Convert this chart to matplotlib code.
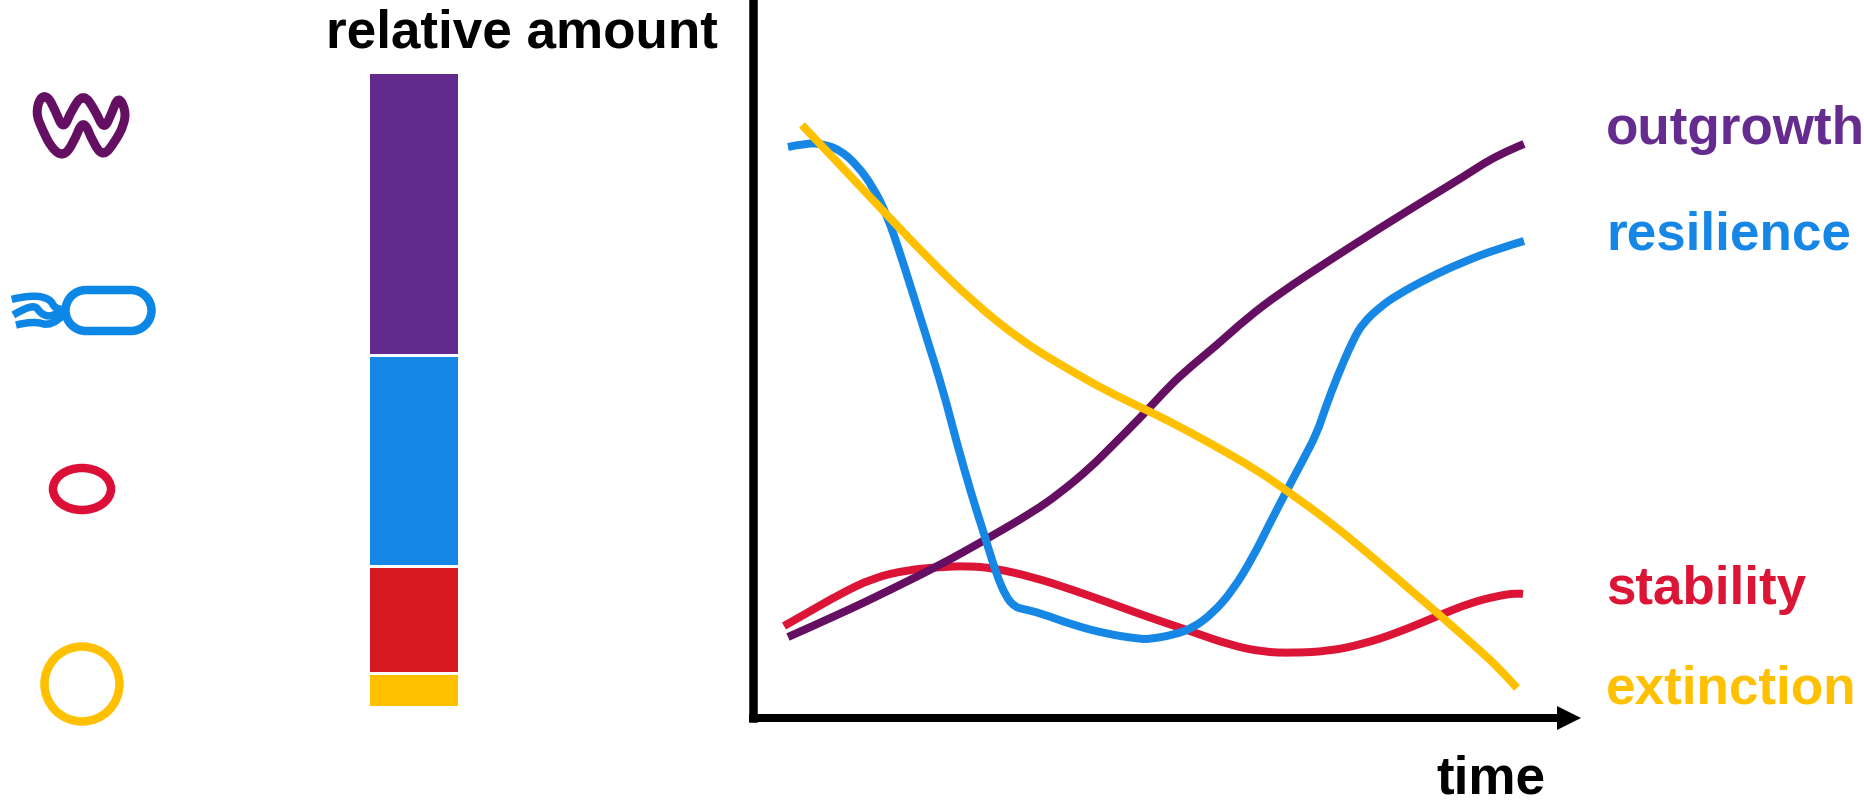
import matplotlib
matplotlib.use("Agg")
import matplotlib.pyplot as plt
from matplotlib.path import Path
from matplotlib.patches import PathPatch, Ellipse, Polygon

plt.rcParams['font.family'] = ['Liberation Sans', 'DejaVu Sans']

# ---------- data ----------
states = ["outgrowth", "resilience", "stability", "extinction"]
relative_amount = [44.5, 33.4, 16.9, 5.2]

outgrowth_t = [35, 87, 137, 187, 232, 280, 307, 337, 360, 387, 410, 430, 464, 494, 527, 577, 627, 677, 710, 744, 771]
outgrowth_y = [81, 104, 128, 153, 178, 206, 225, 250, 273, 300, 325, 345, 373, 400, 425, 458, 490, 521, 541, 563, 574]

resilience_t = [35, 54, 70, 87, 104, 120, 134, 147, 160, 174, 190, 203, 218, 232, 243, 253, 262, 270, 287, 320, 354,
                387, 397, 420, 440, 460, 480, 500, 517, 534, 550, 564, 572, 584, 600, 610, 627, 644, 677, 710, 744, 771]
resilience_y = [571, 575, 574, 568, 553, 531, 503, 465, 424, 379, 328, 278, 225, 181, 145, 121, 111, 109, 105, 93, 84,
                79, 79, 83, 90, 105, 128, 161, 195, 228, 258, 285, 309, 341, 378, 395, 411, 423, 441, 456, 469, 477]

stability_t = [31, 54, 87, 120, 154, 187, 214, 240, 280, 320, 354, 387, 410, 437, 477, 510, 540, 577, 610, 644, 687, 717, 744, 764, 770]
stability_y = [92, 105, 124, 140, 148, 151, 152, 150, 141, 128, 116, 104, 96, 87, 73, 66, 65, 67, 74, 85, 103, 115, 122, 125, 124]

extinction_t = [49, 87, 134, 174, 220, 270, 320, 352, 387, 414, 457, 504, 537, 577, 617, 654, 689, 724, 747, 764]
extinction_y = [593, 553, 503, 461, 416, 376, 346, 328, 311, 298, 275, 248, 225, 196, 163, 131, 101, 70, 49, 30]

# ---------- styles ----------
W, H = 1864, 801
BAR_COLORS = ["#632A8E", "#1787E5", "#D61820", "#FFC000"]
LINE_COLORS = {"outgrowth": "#650F62", "resilience": "#1787E5", "stability": "#DC1436", "extinction": "#FFC000"}
TEXT_COLORS = {"outgrowth": "#652B8F", "resilience": "#1787E5", "stability": "#DC1436", "extinction": "#FFC000"}
ICON_COLORS = {"outgrowth": "#650F62", "resilience": "#0D87E6", "stability": "#DC1036", "extinction": "#FFC000"}

def px(n):
    return n * 72 / 100

def rect(x0, y_top, x1, y_bottom):
    return [x0 / W, 1 - y_bottom / H, (x1 - x0) / W, (y_bottom - y_top) / H]

def smooth_closed(points):
    n = len(points)
    mids = [((points[i][0] + points[(i + 1) % n][0]) / 2,
             (points[i][1] + points[(i + 1) % n][1]) / 2) for i in range(n)]
    verts = [mids[-1]]
    codes = [Path.MOVETO]
    for p, m in zip(points, mids):
        verts += [p, m]
        codes += [Path.CURVE3, Path.CURVE3]
    verts.append(mids[-1])
    codes.append(Path.CLOSEPOLY)
    return Path(verts, codes)

def smooth_open(points):
    verts = [points[0]]
    codes = [Path.MOVETO]
    for i in range(1, len(points) - 1):
        m = ((points[i][0] + points[i + 1][0]) / 2, (points[i][1] + points[i + 1][1]) / 2)
        verts += [points[i], m if i < len(points) - 2 else points[-1]]
        codes += [Path.CURVE3, Path.CURVE3]
    return Path(verts, codes)

fig = plt.figure(figsize=(W / 100, H / 100), dpi=100, facecolor="white")

# ---------- stacked bar ----------
axb = fig.add_axes(rect(370, 74, 458, 705.5))
axb.set_xlim(0, 1)
axb.set_ylim(0, sum(relative_amount))
axb.axis("off")
bottom = 0
for v, c in zip(reversed(relative_amount), reversed(BAR_COLORS)):
    axb.bar(0.5, v, width=1.0, bottom=bottom, color=c, edgecolor="none")
    if bottom > 0:
        axb.axhline(bottom, color="white", lw=px(3))
    bottom += v

# ---------- line chart ----------
ax = fig.add_axes(rect(753, -10, 1557, 718))
ax.set_xlim(0, 804)
ax.set_ylim(0, 728)
ax.set_xticks([])
ax.set_yticks([])
ax.patch.set_alpha(0)
for s in ("top", "right"):
    ax.spines[s].set_visible(False)
ax.spines["left"].set_linewidth(px(8.5))
ax.spines["bottom"].set_linewidth(px(8))
series = [("stability", stability_t, stability_y), ("outgrowth", outgrowth_t, outgrowth_y),
          ("resilience", resilience_t, resilience_y), ("extinction", extinction_t, extinction_y)]
for name, t, y in series:
    ax.add_patch(PathPatch(smooth_open(list(zip(t, y))), fill=False, ec=LINE_COLORS[name],
                           lw=px(8), capstyle="butt", joinstyle="round"))
ax.add_patch(Polygon([[804, 12], [828, 0], [804, -12]], closed=True, color="black", clip_on=False, lw=0))

# ---------- overlay in picture pixels: icons and text ----------
ov = fig.add_axes([0, 0, 1, 1])
ov.set_xlim(0, W)
ov.set_ylim(H, 0)
ov.axis("off")
ov.patch.set_alpha(0)

z = lambda x, y: (x / 3, 60 + y / 3)
blob = [z(*p) for p in [(143, 108), (165, 150), (190, 210), (215, 150), (250, 100), (285, 150), (312, 210),
                        (335, 160), (355, 108), (377, 150), (372, 195), (345, 245), (310, 290), (280, 250),
                        (250, 175), (220, 250), (190, 290), (155, 265), (125, 205), (108, 160), (120, 112)]]
ov.add_patch(PathPatch(smooth_closed(blob), fill=False, ec=ICON_COLORS["outgrowth"], lw=px(9), joinstyle="round"))

# capsule-shaped cell
x0, x1, yt, yb, r = 65.5, 151.5, 290, 331, 20.5
k = 0.5523 * r
cell = Path([(x0 + r, yt), (x1 - r, yt),
             (x1 - r + k, yt), (x1, yt + r - k), (x1, yt + r),
             (x1, yt + r + k), (x1 - r + k, yb), (x1 - r, yb),
             (x0 + r, yb),
             (x0 + r - k, yb), (x0, yt + r + k), (x0, yt + r),
             (x0, yt + r - k), (x0 + r - k, yt), (x0 + r, yt)],
            [Path.MOVETO, Path.LINETO, Path.CURVE4, Path.CURVE4, Path.CURVE4, Path.CURVE4, Path.CURVE4, Path.CURVE4,
             Path.LINETO, Path.CURVE4, Path.CURVE4, Path.CURVE4, Path.CURVE4, Path.CURVE4, Path.CURVE4])
ov.add_patch(PathPatch(cell, fill=False, ec=ICON_COLORS["resilience"], lw=px(8.5)))
flagella = [[(35, 718), (90, 705), (150, 715), (165, 748), (188, 748)],
            [(40, 765), (100, 728), (125, 765), (160, 770), (188, 750)],
            [(48, 795), (100, 782), (155, 800), (190, 765)]]
for fl in flagella:
    ov.add_patch(PathPatch(smooth_open([z(*p) for p in fl]), fill=False,
                           ec=ICON_COLORS["resilience"], lw=px(7.5), capstyle="butt"))

ov.add_patch(Ellipse((82, 489), 58, 42, fill=False, ec=ICON_COLORS["stability"], lw=px(8.5)))
ov.add_patch(Ellipse((82, 684), 75, 75, fill=False, ec=ICON_COLORS["extinction"], lw=px(8.5)))

FS = 38.2
def label(x, y, s, color="black", ha="left"):
    ov.text(x, y, s, color=color, fontsize=FS, fontweight="bold", ha=ha, va="baseline")

label(326, 48, "relative amount")
label(1436, 793, "time")
label(1606, 144, "outgrowth", TEXT_COLORS["outgrowth"])
label(1606, 249, "resilience", TEXT_COLORS["resilience"])
label(1606, 604, "stability", TEXT_COLORS["stability"])
label(1606, 704, "extinction", TEXT_COLORS["extinction"])

fig.savefig("out.png", dpi=100, facecolor="white")
